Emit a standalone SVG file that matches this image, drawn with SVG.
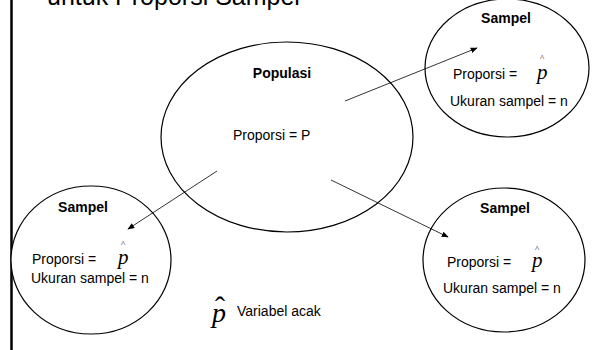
<svg xmlns="http://www.w3.org/2000/svg" width="595" height="350" viewBox="0 0 595 350">
<style>
.sh{fill:#fff;stroke:#000;stroke-width:1.2}
.t{font-family:"Liberation Sans",Arial,sans-serif;font-size:14px;fill:#000}
.b{font-weight:bold;text-anchor:middle}
.p{font-family:"Liberation Serif","Times New Roman",serif;font-style:italic;font-size:21px;fill:#000}
.h{font-family:"Liberation Serif","Times New Roman",serif;font-size:9px;fill:#000;text-anchor:middle}
.c{stroke:#000;stroke-width:0.8;fill:none;marker-end:url(#ah)}
</style>
<defs>
<marker id="ah" viewBox="0 0 10 10" refX="9" refY="5" markerWidth="7" markerHeight="7" markerUnits="userSpaceOnUse" orient="auto">
<path d="M0,1 L10,5 L0,9 z" fill="#000"/>
</marker>
</defs>
<rect width="595" height="350" fill="#fff"/>
<line x1="11.5" y1="0" x2="11.5" y2="350" stroke="#000" stroke-width="2.5"/>
<text x="47" y="5" style="font-family:'Liberation Sans',Arial,sans-serif;font-size:25px;fill:#000">untuk Proporsi Sampel</text>
<g id="populasi">
<ellipse class="sh" cx="287" cy="137" rx="126" ry="95"/>
<text class="t b" x="282" y="78">Populasi</text>
<text class="t" x="233" y="140">Proporsi = P</text>
</g>
<g id="sampel-atas">
<ellipse class="sh" cx="507" cy="68" rx="82" ry="69"/>
<text class="t b" x="506" y="23">Sampel</text>
<text class="t" x="453" y="79">Proporsi =</text>
<text class="p" x="537" y="79">p</text>
<text class="h" x="542" y="61">^</text>
<text class="t" x="450" y="106">Ukuran sampel = n</text>
</g>
<g id="sampel-kiri">
<ellipse class="sh" cx="91" cy="260" rx="80" ry="74"/>
<text class="t b" x="83" y="212">Sampel</text>
<text class="t" x="32" y="264">Proporsi =</text>
<text class="p" x="118" y="264">p</text>
<text class="h" x="123" y="247">^</text>
<text class="t" x="31" y="283">Ukuran sampel = n</text>
</g>
<g id="sampel-kanan">
<ellipse class="sh" cx="504" cy="260" rx="81" ry="72"/>
<text class="t b" x="505" y="213">Sampel</text>
<text class="t" x="447" y="267">Proporsi =</text>
<text class="p" x="532" y="267">p</text>
<text class="h" x="537" y="252">^</text>
<text class="t" x="443" y="293">Ukuran sampel = n</text>
</g>
<g id="connectors">
<line class="c" x1="345" y1="101" x2="477" y2="48"/>
<line class="c" x1="217" y1="171" x2="128" y2="229"/>
<line class="c" x1="331" y1="180" x2="448" y2="237"/>
</g>
<g id="keterangan">
<text x="212" y="322" style="font-family:'Liberation Serif','Times New Roman',serif;font-style:italic;font-size:28px;fill:#000">p</text>
<text x="220" y="317" style="font-family:'Liberation Serif','Times New Roman',serif;font-size:30px;fill:#000;text-anchor:middle">ˆ</text>
<text class="t" x="237" y="316">Variabel acak</text>
</g>
</svg>
